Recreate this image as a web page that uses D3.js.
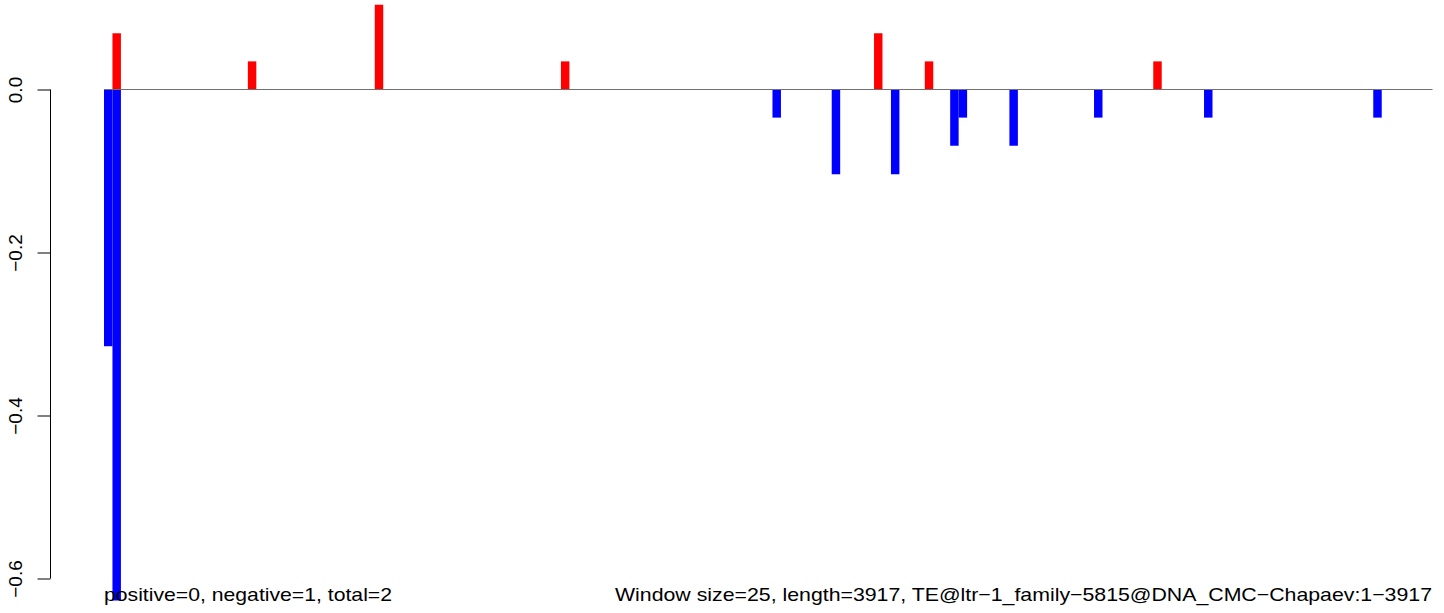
<!DOCTYPE html>
<html>
<head>
<meta charset="utf-8">
<script src="https://cdn.jsdelivr.net/npm/d3@7"></script>
<style>
  body { margin: 0; background: #fff; }
  text { font-family: "Liberation Sans", Arial, sans-serif; fill: #000; }
</style>
</head>
<body>
<svg id="chart" width="1444" height="613"></svg>
<script>
// window count (3917 / 25 rounded up)
var nWindows = 157;

// positive windows (red)
var posWin = [1, 17, 32, 54, 91, 97, 124];
var posVal = [0.069, 0.0345, 0.104, 0.0345, 0.069, 0.0345, 0.0345];

// negative windows (blue)
var negWin = [0, 1, 79, 86, 93, 100, 101, 107, 117, 130, 150];
var negVal = [-0.315, -0.627, -0.0345, -0.104, -0.104, -0.069, -0.0345, -0.069, -0.0345, -0.0345, -0.0345];

var yTicks = [0, -0.2, -0.4, -0.6];
var leftLabel = "positive=0, negative=1, total=2";
var rightLabel = "Window size=25, length=3917, TE@ltr\u22121_family\u22125815@DNA_CMC\u2212Chapaev:1\u22123917";

var svg = d3.select("#chart");

var x = d3.scaleLinear()
    .domain([0, nWindows])
    .range([104, 1432.5]);

var y = d3.scaleLinear()
    .domain([-0.6, 0])
    .range([578.5, 89.5]);

var pos = posWin.map(function(w, i) { return {w: w, v: posVal[i]}; });
var neg = negWin.map(function(w, i) { return {w: w, v: negVal[i]}; });

svg.selectAll(".neg")
    .data(neg)
    .enter().append("rect")
    .attr("class", "neg")
    .attr("x", function(d) { return x(d.w); })
    .attr("width", function(d) { return x(d.w + 1) - x(d.w); })
    .attr("y", y(0))
    .attr("height", function(d) { return y(d.v) - y(0); })
    .style("fill", "#0000ff");

svg.selectAll(".pos")
    .data(pos)
    .enter().append("rect")
    .attr("class", "pos")
    .attr("x", function(d) { return x(d.w); })
    .attr("width", function(d) { return x(d.w + 1) - x(d.w); })
    .attr("y", function(d) { return y(d.v); })
    .attr("height", function(d) { return y(0) - y(d.v); })
    .style("fill", "#ff0000");

// zero line
svg.append("line")
    .attr("x1", x(0))
    .attr("x2", x(nWindows))
    .attr("y1", y(0))
    .attr("y2", y(0))
    .style("stroke", "#707070")
    .style("stroke-width", 1);

// y axis, R style
var yAxis = d3.axisLeft(y)
    .tickValues(yTicks)
    .tickSize(13)
    .tickFormat(d3.format(".1f"));

var gy = svg.append("g")
    .attr("transform", "translate(50.5,0)")
    .call(yAxis);

gy.select(".domain")
    .attr("d", "M0," + y(0) + "V" + y(-0.6))
    .style("stroke", "#000");
gy.selectAll(".tick line").style("stroke", "#000");
gy.selectAll(".tick text")
    .attr("transform", "rotate(-90)")
    .attr("x", 0)
    .attr("y", -29)
    .attr("dy", 0)
    .style("text-anchor", "middle")
    .style("font-size", "19px")
    .style("font-family", "'Liberation Sans', Arial, sans-serif")
    .text(function(d) { return d3.format(".1f")(d).replace("-", "\u2212"); });

svg.append("text")
    .attr("x", 104)
    .attr("y", 601)
    .attr("textLength", 288)
    .attr("lengthAdjust", "spacingAndGlyphs")
    .style("font-size", "19px")
    .text(leftLabel);

svg.append("text")
    .attr("x", 615)
    .attr("y", 601)
    .attr("textLength", 817)
    .attr("lengthAdjust", "spacingAndGlyphs")
    .style("font-size", "19px")
    .text(rightLabel);
</script>
</body>
</html>
